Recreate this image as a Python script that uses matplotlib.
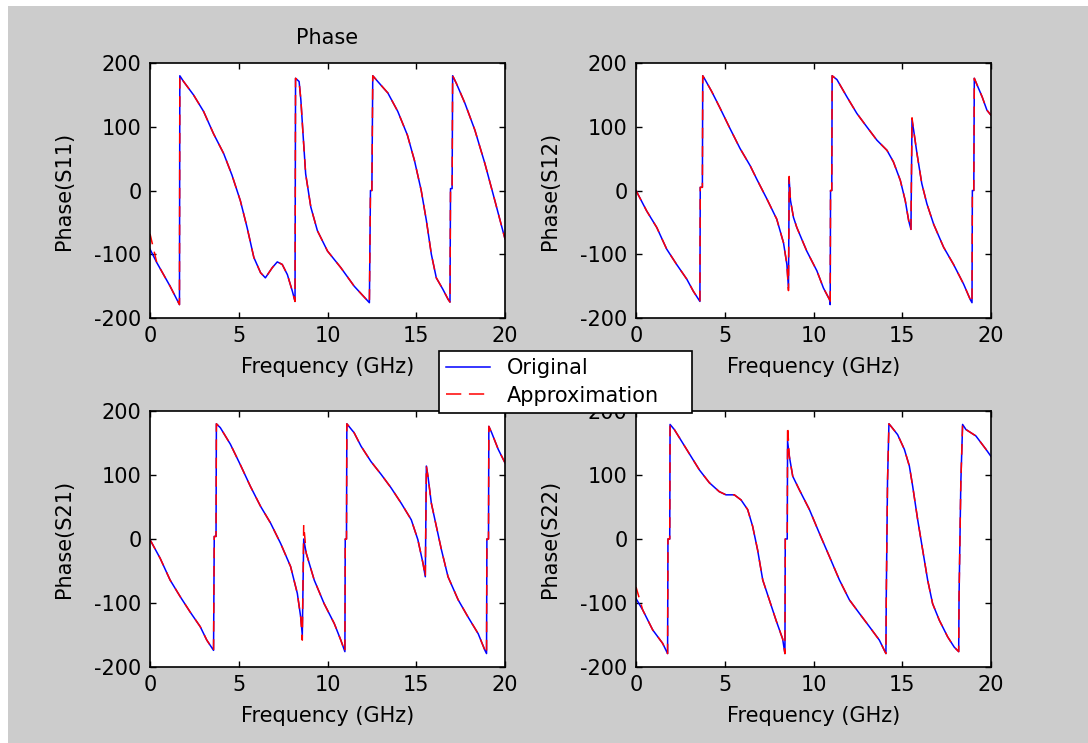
import numpy as np
import matplotlib
matplotlib.use("Agg")
import matplotlib.pyplot as plt
from matplotlib.patches import Rectangle
from matplotlib.lines import Line2D

# frequency (GHz) and phase (deg)
f11 = [0, 0.38, 1.13, 1.66, 1.68, 1.89, 2.45, 3.02, 3.58, 4.15, 4.62, 5.09, 5.47, 5.85,
       6.23, 6.5, 6.89, 7.17, 7.45, 7.74, 8.02, 8.17, 8.2, 8.4, 8.5, 8.62, 8.77, 9.06,
       9.43, 10.0, 10.75, 11.5, 12.36, 12.42, 12.5, 12.55, 12.83, 13.4, 13.96, 14.5,
       14.9, 15.28, 15.57, 15.85, 16.13, 16.5, 16.8, 16.9, 16.93, 17.02, 17.05, 17.26,
       17.74, 18.3, 18.87, 19.43, 20]
s11 = [-92, -113, -150, -179, 180, 171, 150, 124, 89, 58, 24, -16, -58, -105,
       -129, -137, -121, -112, -116, -132, -158, -174, 176, 171, 142, 89, 26, -26,
       -63, -95, -121, -150, -176, 0, 0, 180, 171, 153, 124, 87,
       47, 0, -47, -100, -137, -155, -171, -175, 3, 3, 180, 168,
       137, 95, 42, -16, -76]

f12 = [0, 0.6, 1.17, 1.73, 2.29, 2.86, 3.23, 3.6, 3.62, 3.74, 3.76, 3.89, 4.27, 4.74,
       5.3, 5.86, 6.43, 6.8, 7.37, 7.93, 8.31, 8.5, 8.59, 8.63, 8.7, 8.87, 9.06, 9.62,
       10.19, 10.56, 10.9, 10.94, 10.96, 11.03, 11.05, 11.32, 11.88, 12.44, 13.0, 13.57,
       14.14, 14.5, 14.89, 15.17, 15.36, 15.49, 15.55, 15.64, 15.83, 16.1, 16.39, 16.77,
       17.33, 17.89, 18.46, 18.83, 18.93, 18.95, 19.03, 19.06, 19.21, 19.5, 19.77, 20]
s12 = [0, -32, -58, -92, -116, -139, -158, -174, 5, 5, 180, 174, 155, 129,
       97, 66, 39, 18, -13, -45, -82, -116, -153, 18, -15, -42, -58, -95,
       -126, -153, -171, -179, 0, 0, 180, 174, 147, 121, 100, 79,
       63, 45, 16, -16, -47, -61, 110, 95, 58, 11, -21, -53,
       -89, -116, -147, -171, -176, 0, 0, 176, 166, 147, 126, 118]

f21 = [0, 0.57, 1.13, 1.7, 2.26, 2.83, 3.2, 3.58, 3.62, 3.72, 3.74, 3.96, 4.53, 5.09,
       5.66, 6.23, 6.79, 7.36, 7.92, 8.3, 8.49, 8.58, 8.66, 8.8, 9.25, 9.81, 10.38,
       10.75, 10.98, 11.0, 11.07, 11.09, 11.5, 11.89, 12.45, 13.02, 13.58, 14.15, 14.72,
       15.09, 15.38, 15.51, 15.57, 15.66, 15.85, 16.13, 16.42, 16.79, 17.36, 17.92,
       18.49, 18.87, 18.96, 18.98, 19.07, 19.09, 19.25, 19.62, 20]
s21 = [-1, -30, -64, -90, -114, -137, -158, -174, 4, 4, 180, 174, 148, 116,
       82, 51, 25, -7, -43, -85, -122, -150, 0, -22, -64, -101, -132,
       -158, -176, 0, 0, 180, 166, 145, 121, 101, 80, 56, 30,
       -1, -38, -59, 114, 98, 56, 20, -17, -59, -95, -122,
       -148, -174, -179, 0, 0, 176, 166, 140, 119]

f22 = [0, 0.38, 0.94, 1.5, 1.78, 1.8, 1.9, 1.92, 2.16, 2.63, 3.1, 3.57, 4.13, 4.69,
       5.07, 5.54, 5.92, 6.29, 6.57, 6.85, 7.14, 7.51, 7.89, 8.26, 8.39, 8.41, 8.52,
       8.54, 8.64, 8.83, 9.2, 9.77, 10.33, 10.89, 11.46, 12.02, 12.58, 13.15, 13.71,
       14.08, 14.1, 14.17, 14.25, 14.37, 14.74, 15.12, 15.4, 15.59, 15.87, 16.15, 16.43,
       16.71, 17.09, 17.56, 17.93, 18.18, 18.2, 18.3, 18.4, 18.59, 19.15, 19.72, 20]
s22 = [-93, -111, -142, -163, -179, 0, 0, 179, 171, 150, 129, 108, 88, 74,
       69, 69, 61, 46, 20, -17, -64, -95, -127, -156, -179, 0, 0,
       153, 129, 98, 77, 46, 9, -27, -64, -95, -116, -137, -158,
       -179, -90, 90, 180, 176, 163, 140, 114, 82, 30, -17, -64,
       -101, -127, -153, -169, -176, -90, 88, 179, 171, 161, 140, 129]

# the approximation follows the original except at a few samples
a11 = list(s11); a11[0] = -68
a12 = list(s12); a12[22] = -157; a12[23] = 22; a12[46] = 114
a21 = list(s21); a21[21] = -158; a21[22] = 22
a22 = list(s22); a22[0] = -75; a22[27] = 176

panels = [(f11, s11, a11, 'Phase(S11)'), (f12, s12, a12, 'Phase(S12)'),
          (f21, s21, a21, 'Phase(S21)'), (f22, s22, a22, 'Phase(S22)')]

plt.rcParams['font.family'] = 'DejaVu Sans'
plt.rcParams['font.size'] = 15
plt.rcParams['axes.unicode_minus'] = False

W, H = 1088, 743
fig = plt.figure(figsize=(W / 100, H / 100), dpi=100, facecolor='white')
fig.patches.append(Rectangle((8 / W, 0), 1, 1 - 6 / H, transform=fig.transFigure,
                             facecolor='#cccccc', edgecolor='none', zorder=-10))

# axes boxes in pixels: left, top, right, bottom
boxes = [(150, 63, 505, 318), (636, 63, 991, 318),
         (150, 411, 505, 667), (636, 411, 991, 667)]

for (f, orig, apx, ylab), (l, t, r, b) in zip(panels, boxes):
    ax = fig.add_axes([l / W, 1 - b / H, (r - l) / W, (b - t) / H])
    ax.plot(f, orig, color='#0000ff', lw=1.1, ls='-')
    ax.plot(f, apx, color='#ff0000', lw=1.1, ls=(0, (7, 5)))
    ax.set_xlim(0, 20)
    ax.set_ylim(-200, 200)
    ax.set_xticks([0, 5, 10, 15, 20])
    ax.set_yticks([-200, -100, 0, 100, 200])
    ax.tick_params(direction='in', top=True, right=True, length=4, width=1,
                   pad=6, labelsize=15)
    for s in ax.spines.values():
        s.set_linewidth(1.2)
    ax.set_xlabel('Frequency (GHz)', labelpad=8)
    ax.set_ylabel(ylab, labelpad=15)
    if ylab == 'Phase(S11)':
        ax.set_title('Phase', fontsize=15, pad=14)

handles = [Line2D([], [], color='#0000ff', lw=1.1),
           Line2D([], [], color='#ff0000', lw=1.1, ls=(0, (10, 5)))]
leg = fig.legend(handles, ['Original', 'Approximation'], loc='upper left',
                 bbox_to_anchor=(439 / W, 1 - 413 / H, 253 / W, 62 / H),
                 mode='expand', borderaxespad=0,
                 fancybox=False, framealpha=1, edgecolor='black', fontsize=15,
                 handlelength=2.1, handletextpad=0.8, labelspacing=0.35,
                 borderpad=0.35)
leg.get_frame().set_linewidth(1.2)

fig.savefig('out.png', dpi=100, facecolor=fig.get_facecolor())
